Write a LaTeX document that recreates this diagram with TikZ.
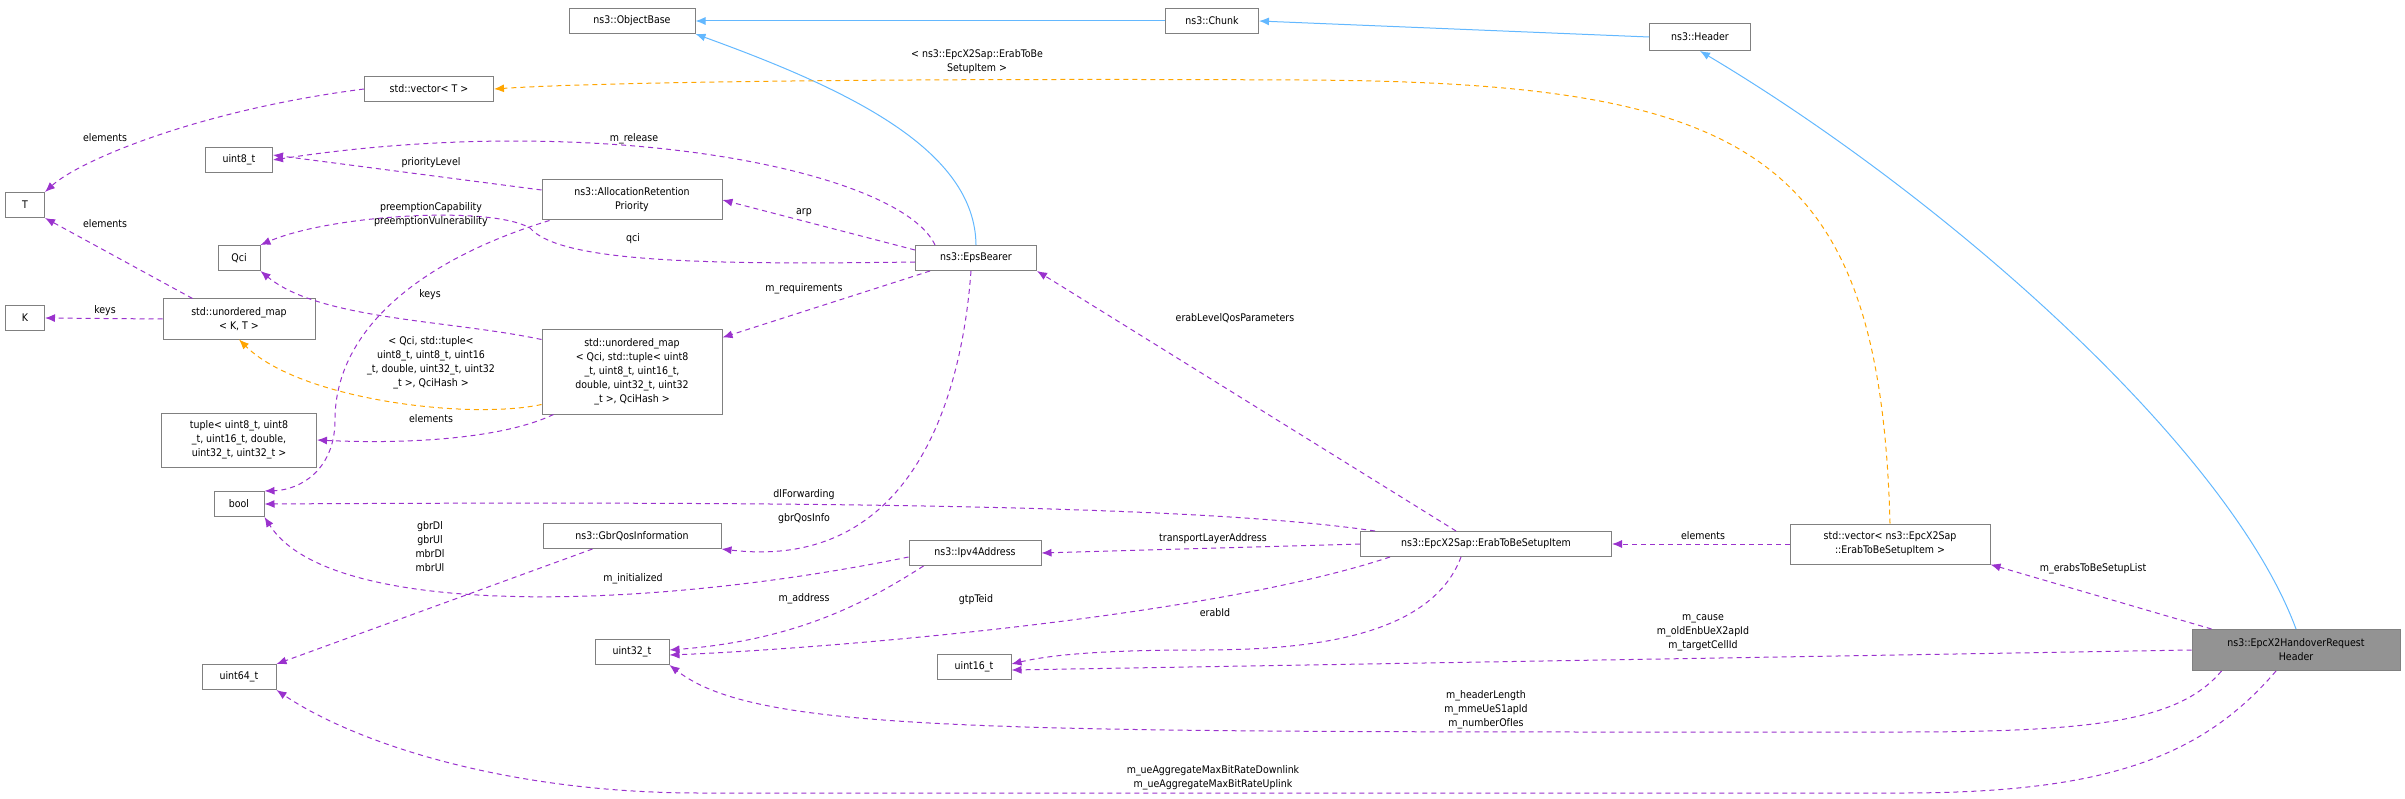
\documentclass[tikz,border=0pt]{standalone}
\usepackage{fontspec}
\setmainfont{DejaVu Sans Condensed}
\usetikzlibrary{arrows.meta}
\definecolor{purp}{HTML}{9A32CD}
\definecolor{inh}{HTML}{63B8FF}
\definecolor{tpl}{HTML}{FFA500}
\definecolor{bx}{HTML}{808080}
\newcommand{\lt}{\textless}
\newcommand{\gt}{\textgreater}
\begin{document}
\begin{tikzpicture}[x=1pt,y=-1pt,
  cls/.style={draw=bx,line width=1pt,fill=white,font=\fontsize{10.5}{14}\selectfont,align=center,inner sep=2pt},
  lbl/.style={font=\fontsize{10.5}{14}\selectfont,align=center,inner sep=0pt},
  mem/.style={draw=purp,dashed,line width=1pt,dash pattern=on 5pt off 4pt,-{Latex[length=10pt,width=8pt]}},
  tmp/.style={draw=tpl,dashed,line width=1pt,dash pattern=on 5pt off 4pt,-{Latex[length=10pt,width=8pt]}},
  isa/.style={draw=inh,line width=1pt,-{Latex[length=10pt,width=8pt]}}]
\useasboundingbox (0,0) rectangle (2405,799);
% nodes
\node[cls,minimum width=126pt,minimum height=25pt] (ob) at (632,21) {ns3::ObjectBase};
\node[cls,minimum width=93pt,minimum height=25pt] (ch) at (1212,21) {ns3::Chunk};
\node[cls,minimum width=101pt,minimum height=27pt] (hd) at (1700,37) {ns3::Header};
\node[cls,minimum width=129pt,minimum height=25pt] (vt) at (429,89) {std::vector\lt{} T \gt};
\node[cls,minimum width=67pt,minimum height=25pt] (u8) at (239,160) {uint8\_t};
\node[cls,minimum width=39pt,minimum height=25pt] (T) at (25,205) {T};
\node[cls,minimum width=180pt,minimum height=40pt] (arp) at (632,200) {ns3::AllocationRetention\\Priority};
\node[cls,minimum width=42pt,minimum height=25pt] (qci) at (239,258) {Qci};
\node[cls,minimum width=121pt,minimum height=25pt] (eps) at (976,258) {ns3::EpsBearer};
\node[cls,minimum width=39pt,minimum height=25pt] (K) at (25,318) {K};
\node[cls,minimum width=152pt,minimum height=40pt] (mkt) at (239,319) {std::unordered\_map\\\lt{} K, T \gt};
\node[cls,minimum width=180pt,minimum height=84pt] (mq) at (632,372) {std::unordered\_map\\\lt{} Qci, std::tuple\lt{} uint8\\\_t, uint8\_t, uint16\_t,\\double, uint32\_t, uint32\\\_t \gt, QciHash \gt};
\node[cls,minimum width=155pt,minimum height=54pt] (tup) at (239,440) {tuple\lt{} uint8\_t, uint8\\\_t, uint16\_t, double,\\uint32\_t, uint32\_t \gt};
\node[cls,minimum width=50pt,minimum height=25pt] (bool) at (239,504) {bool};
\node[cls,minimum width=178pt,minimum height=25pt] (gbr) at (632,536) {ns3::GbrQosInformation};
\node[cls,minimum width=132pt,minimum height=25pt] (ip) at (975,553) {ns3::Ipv4Address};
\node[cls,minimum width=74pt,minimum height=25pt] (u32) at (632,652) {uint32\_t};
\node[cls,minimum width=74pt,minimum height=25pt] (u16) at (974,667) {uint16\_t};
\node[cls,minimum width=74pt,minimum height=25pt] (u64) at (239,677) {uint64\_t};
\node[cls,minimum width=251pt,minimum height=25pt] (it) at (1486,544) {ns3::EpcX2Sap::ErabToBeSetupItem};
\node[cls,minimum width=200pt,minimum height=40pt] (ve) at (1890,544) {std::vector\lt{} ns3::EpcX2Sap\\::ErabToBeSetupItem \gt};
\node[cls,fill=gray!85,minimum width=208pt,minimum height=41pt] (ho) at (2296,650) {ns3::EpcX2HandoverRequest\\Header};
% inheritance
\draw[isa] (ch.west) -- (ob.east);
\draw[isa] (hd.west) -- (ch.east);
\draw[isa] (eps.north) .. controls (975,150) and (850,90) .. (ob.south east);
\draw[isa] (ho.north) .. controls (2230,450) and (1950,200) .. (hd.south);
% templates
\draw[tmp] (ve.north) .. controls (1880,150) and (1750,82) .. (1300,80) .. controls (900,78) and (600,82) .. (vt.east);
\draw[tmp] (mq.south west) ++(0,-10) .. controls (470,420) and (300,400) .. (mkt.south);
% members
\draw[mem] (vt.west) .. controls (200,110) and (80,160) .. (T.north east);
\draw[mem] (mkt.north west) ++(30,0) -- (T.south east);
\draw[mem] (mkt.west) -- (K.east);
\draw[mem] (eps.north west) ++(20,0) .. controls (900,170) and (600,110) .. (u8.east);
\draw[mem] (arp.west) ++(0,-10) -- ([yshift=5pt]u8.east);
\draw[mem] (eps.west) ++(0,4) .. controls (700,265) and (560,262) .. (530,228) .. controls (490,205) and (330,215) .. (qci.north east);
\draw[mem] (arp.south west) ++(8,0) .. controls (420,260) and (335,330) .. (335,420) .. controls (335,470) and (300,490) .. (bool.north east);
\draw[mem] (mq.north west) ++(0,10) .. controls (450,320) and (320,320) .. (qci.south east);
\draw[mem] (mq.south west) ++(12,0) .. controls (500,440) and (400,444) .. (tup.east);
\draw[mem] (eps.west) ++(0,-8) -- (arp.east);
\draw[mem] (eps.south west) ++(15,0) -- ([yshift=-8pt]mq.north east);
\draw[mem] (eps.south) ++(-5,0) .. controls (960,420) and (900,570) .. (gbr.south east);
\draw[mem] (it.north west) ++(15,0) .. controls (1200,505) and (800,501) .. (bool.east);
\draw[mem] (gbr.south west) ++(50,0) -- (u64.north east);
\draw[mem] (ip.west) ++(0,4) .. controls (650,610) and (330,620) .. (bool.south east);
\draw[mem] (ip.south west) ++(15,0) .. controls (870,600) and (800,640) .. ([yshift=2pt]u32.east);
\draw[mem] (it.south west) ++(30,0) .. controls (1200,620) and (800,650) .. ([yshift=-3pt]u32.east);
\draw[mem] (it.west) -- (ip.east);
\draw[mem] (it.north) ++(-30,0) -- (eps.south east);
\draw[mem] (it.south) ++(-25,0) .. controls (1430,640) and (1300,650) .. (1200,650) .. controls (1100,650) and (1050,655) .. ([yshift=3pt]u16.east);
\draw[mem] (ve.west) -- (it.east);
\draw[mem] (ho.north west) ++(20,0) -- (ve.south east);
\draw[mem] (ho.west) -- ([yshift=-3pt]u16.east);
\draw[mem] (ho.south west) ++(30,0) .. controls (2180,720) and (2100,732) .. (1900,732) .. controls (1000,732) and (760,735) .. (u32.south east);
\draw[mem] (ho.south) ++(-20,0) .. controls (2200,760) and (2100,793) .. (1900,793) -- (700,793) .. controls (500,793) and (350,740) .. (u64.south east);
% labels
\node[lbl] (l1) at (105,138) {elements};
\node[lbl] (l2) at (105,224) {elements};
\node[lbl] (l3) at (105,311) {keys};
\node[lbl] (l4) at (634,139) {m\_release};
\node[lbl] (l5) at (431,163) {priorityLevel};
\node[lbl] (l6) at (431,215) {preemptionCapability\\preemptionVulnerability};
\node[lbl] (l7) at (804,213) {arp};
\node[lbl] (l8) at (633,239) {qci};
\node[lbl] (l9) at (430,295) {keys};
\node[lbl] (l10) at (804,289) {m\_requirements};
\node[lbl] (l11) at (431,363) {\lt{} Qci, std::tuple\lt\\uint8\_t, uint8\_t, uint16\\\_t, double, uint32\_t, uint32\\\_t \gt, QciHash \gt};
\node[lbl] (l12) at (977,62) {\lt{} ns3::EpcX2Sap::ErabToBe\\SetupItem \gt};
\node[lbl] (l13) at (431,419) {elements};
\node[lbl] (l14) at (804,495) {dlForwarding};
\node[lbl] (l15) at (804,519) {gbrQosInfo};
\node[lbl] (l16) at (430,547) {gbrDl\\gbrUl\\mbrDl\\mbrUl};
\node[lbl] (l17) at (633,579) {m\_initialized};
\node[lbl] (l18) at (804,599) {m\_address};
\node[lbl] (l19) at (976,600) {gtpTeid};
\node[lbl] (l20) at (1235,318) {erabLevelQosParameters};
\node[lbl] (l21) at (1213,539) {transportLayerAddress};
\node[lbl] (l22) at (1703,536) {elements};
\node[lbl] (l23) at (2093,569) {m\_erabsToBeSetupList};
\node[lbl] (l24) at (1215,613) {erabId};
\node[lbl] (l25) at (1703,633) {m\_cause\\m\_oldEnbUeX2apId\\m\_targetCellId};
\node[lbl] (l26) at (1486,710) {m\_headerLength\\m\_mmeUeS1apId\\m\_numberOfIes};
\node[lbl] (l27) at (1213,778) {m\_ueAggregateMaxBitRateDownlink\\m\_ueAggregateMaxBitRateUplink};
\end{tikzpicture}
\end{document}
